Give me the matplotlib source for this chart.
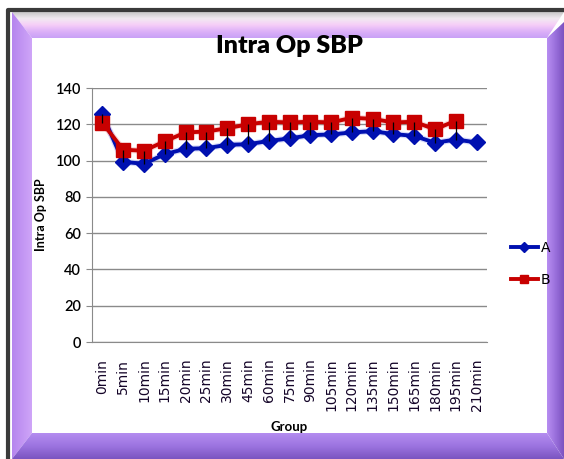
import numpy as np
import matplotlib
matplotlib.use("Agg")
import matplotlib.pyplot as plt
from matplotlib.patches import Polygon
from matplotlib.colors import LinearSegmentedColormap

categories = ["0min", "5min", "10min", "15min", "20min", "25min", "30min", "45min",
              "60min", "75min", "90min", "105min", "120min", "135min", "150min",
              "165min", "180min", "195min", "210min"]
series_a = [125.5, 99.3, 98.2, 103.5, 106.5, 106.8, 108.7, 109.0, 110.8, 112.2,
            114.0, 114.4, 115.5, 116.2, 114.6, 113.6, 109.8, 111.6, 110.0]
series_b = [120.8, 106.0, 105.4, 110.6, 115.5, 116.0, 117.8, 120.0, 121.4, 121.0,
            121.4, 121.0, 123.6, 123.0, 121.0, 121.4, 117.2, 122.0, np.nan]
yticks = [0, 20, 40, 60, 80, 100, 120, 140]

W, H = 564, 459
fig = plt.figure(figsize=(W / 100, H / 100), dpi=100)

# ---- decorative frame (pixel coords) ----
bg = fig.add_axes([0, 0, 1, 1])
bg.set_xlim(0, W)
bg.set_ylim(H, 0)
bg.axis("off")

ox0, oy0, ox1, oy1 = 12, 12, W, H
ix0, iy0, ix1, iy1 = 32, 38, 547, 433

def grad_poly(pts, colors, vertical, extent):
    cmap = LinearSegmentedColormap.from_list("g", colors)
    g = np.linspace(0, 1, 256)
    img = g[:, None] if vertical else g[None, :]
    im = bg.imshow(img, cmap=cmap, extent=extent, aspect="auto", origin="upper"
                   if vertical else "lower", zorder=1, interpolation="bilinear")
    poly = Polygon(pts, closed=True, facecolor="none", edgecolor="none")
    bg.add_patch(poly)
    im.set_clip_path(poly)

# white inner area
bg.add_patch(Polygon([(ix0, iy0), (ix1, iy0), (ix1, iy1), (ix0, iy1)],
                     facecolor="white", edgecolor="none", zorder=0))
# top band
grad_poly([(ox0, oy0), (ox1, oy0), (ix1, iy0), (ix0, iy0)],
          ["#c8c8c8", "#f2eaf2", "#f6cdf8", "#dcb0f8", "#c8a0f6"], True,
          (ox0, ox1, iy0, oy0))
# left band
grad_poly([(ox0, oy0), (ix0, iy0), (ix0, iy1), (ox0, oy1)],
          ["#b585ee", "#cfa5f8"], False, (ox0, ix0, oy1, oy0))
# right band
grad_poly([(ox1, oy0 + 10), (ox1, oy1), (ix1, iy1), (ix1, iy0)],
          ["#b88ef2", "#9a70dc", "#7c52c0"], False, (ix1, ox1, oy1, oy0))
# bottom band
grad_poly([(ix0, iy1), (ix1, iy1), (ox1, oy1), (ox0, oy1)],
          ["#b48cf0", "#9c74e0", "#7a54c0"], True, (ox0, ox1, oy1, iy1))
# dark outer edge
bg.plot([8, 8, W], [H, 10, 10], color="#3a3a3a", lw=3, zorder=3,
        solid_capstyle="butt")

# ---- chart axes ----
x0p, x1p, ytop, ybot = 92, 487, 88, 342
ax = fig.add_axes([x0p / W, 1 - ybot / H, (x1p - x0p) / W, (ybot - ytop) / H])
ax.patch.set_alpha(0)
x = np.arange(len(categories))
ax.set_xlim(-0.5, len(categories) - 0.5)
ax.set_ylim(0, 140)
ax.set_yticks(yticks)
ax.grid(axis="y", color="#8a8a8a", lw=1)
ax.set_axisbelow(True)
for s in ["top", "right"]:
    ax.spines[s].set_visible(False)
ax.spines["left"].set_color("#8a8a8a")
ax.spines["bottom"].set_color("#8a8a8a")
ax.tick_params(axis="y", length=4, color="#8a8a8a", labelsize=10.5, pad=4)
ax.tick_params(axis="x", length=0, pad=12)
ax.set_xticks(x)
ax.set_xticklabels(categories, rotation=90, fontsize=10, color="#140428",
                   family="DejaVu Sans")
for lab in ax.get_yticklabels():
    lab.set_family(["Lato", "DejaVu Sans"])
    lab.set_fontweight("semibold")

a = np.array(series_a, dtype=float)
b = np.array(series_b, dtype=float)
ok = ~np.isnan(b)
ax.vlines(x[ok], np.minimum(a[ok], b[ok]), np.maximum(a[ok], b[ok]),
          color="black", lw=0.9, zorder=5)
ax.plot(x, a, color="#6070f0", lw=4.5, alpha=0.25, zorder=3)
la, = ax.plot(x, a, color="#0010b0", lw=2.8, marker="D", ms=8.5,
              markeredgecolor="#0010b0", zorder=4, label="A")
ax.plot(x, b, color="#f06060", lw=4.5, alpha=0.25, zorder=3)
lb, = ax.plot(x, b, color="#c80000", lw=2.8, marker="s", ms=10,
              markeredgecolor="#c80000", zorder=4, label="B")

ax.set_ylabel("Intra Op SBP", fontsize=9, fontweight="bold",
              family=["Lato", "DejaVu Sans"], labelpad=6)
fig.text(289 / W, 1 - 427 / H, "Group", ha="center", va="center",
         fontsize=9.5, fontweight="bold", family=["Lato", "DejaVu Sans"])
fig.text(289 / W, 1 - 46 / H, "Intra Op SBP", ha="center", va="center",
         fontsize=18, fontweight="heavy", family=["Lato", "DejaVu Sans"])

fig.legend(handles=[la, lb], labels=["A", "B"], loc="center left",
           bbox_to_anchor=(505 / W, 1 - 264 / H), frameon=False,
           fontsize=10, handlelength=2.0, labelspacing=1.3, handletextpad=0.2,
           markerscale=0.6, borderaxespad=0)

fig.savefig("out.png", dpi=100)
